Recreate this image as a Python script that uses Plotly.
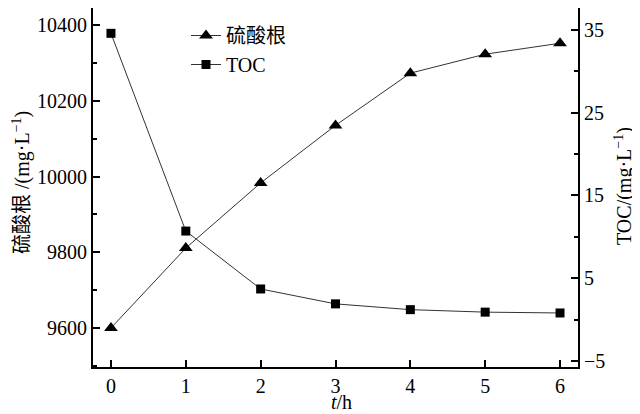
import plotly.graph_objects as go

t_hours = [0, 1, 2, 3, 4, 5, 6]
sulfate = [9600, 9811, 9983, 10135, 10273, 10323, 10352]
toc = [34.6, 10.7, 3.7, 1.9, 1.2, 0.9, 0.8]
x_ticks = [0, 1, 2, 3, 4, 5, 6]
left_ticks = [9600, 9800, 10000, 10200, 10400]
right_ticks = [-5, 5, 15, 25, 35]

SERIF = "Liberation Serif, Noto Sans CJK SC, serif"
LINE = "#333333"
W, H = 640, 414
OFF = 8  # page body margin offset
L, R, T, B = 85, 70, 0, 55

fig = go.Figure()
fig.add_trace(go.Scatter(
    x=t_hours, y=sulfate, name="硫酸根", mode="lines+markers",
    line=dict(color=LINE, width=1),
    marker=dict(symbol="triangle-up", size=12, color="black"),
    yaxis="y"))
fig.add_trace(go.Scatter(
    x=t_hours, y=toc, name="TOC", mode="lines+markers",
    line=dict(color=LINE, width=1),
    marker=dict(symbol="square", size=9, color="black"),
    yaxis="y2"))

axis_common = dict(showgrid=False, zeroline=False, showline=True, linecolor="black",
                   linewidth=2, ticks="inside", ticklen=7, tickwidth=1.5, tickcolor="black",
                   automargin=False,
                   tickfont=dict(family=SERIF, size=20, color="black"))

pw, ph = W - L - R, H - T - B
def px(x):
    return (x - OFF - L) / pw
def py(y):
    return 1 - (y - OFF - T) / ph

title_font = dict(family=SERIF, size=20, color="black")
annotations = [
    dict(text="<i>t</i>/h", x=px(341), y=py(402), xref="paper", yref="paper",
         showarrow=False, font=title_font, xanchor="center", yanchor="middle"),
    dict(text="硫酸根 /(mg·L<sup>−1</sup>)", x=px(21), y=py(183), xref="paper", yref="paper",
         showarrow=False, font=title_font, textangle=-90, xanchor="center", yanchor="middle"),
    dict(text="TOC/(mg·L<sup>−1</sup>)", x=px(623), y=py(186), xref="paper", yref="paper",
         showarrow=False, font=title_font, textangle=-90, xanchor="center", yanchor="middle"),
]

fig.update_layout(
    width=W, height=H,
    margin=dict(l=L, r=R, t=T, b=B, autoexpand=False),
    paper_bgcolor="white", plot_bgcolor="white",
    showlegend=True,
    legend=dict(x=px(186), y=py(16), xanchor="left", yanchor="top",
                bgcolor="rgba(0,0,0,0)", font=dict(family=SERIF, size=20, color="black"),
                itemwidth=30, tracegroupgap=0),
    annotations=annotations,
    xaxis=dict(range=[-0.24, 6.24], tickvals=x_ticks, **axis_common),
    yaxis=dict(range=[9497, 10445], tickvals=left_ticks, tickformat="d",
               minor=dict(dtick=100, tick0=9500, ticks="inside", ticklen=4, tickcolor="black", tickwidth=1.5),
               **axis_common),
    yaxis2=dict(range=[-5.73, 37.66], tickvals=right_ticks, overlaying="y", side="right",
                minor=dict(dtick=5, tick0=0, ticks="inside", ticklen=4, tickcolor="black", tickwidth=1.5),
                **axis_common),
)

fig.write_html("out.html")
